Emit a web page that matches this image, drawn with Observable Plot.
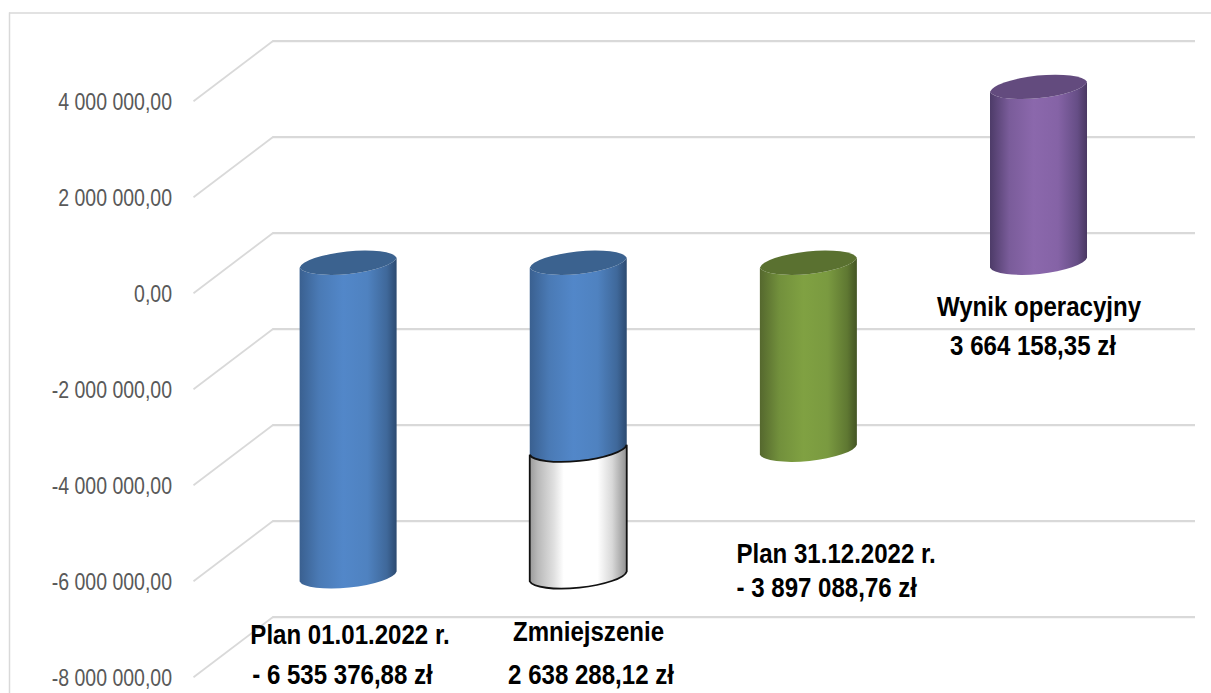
<!DOCTYPE html>
<html>
<head>
<meta charset="utf-8">
<script src="https://cdn.jsdelivr.net/npm/d3@7"></script>
<script src="https://cdn.jsdelivr.net/npm/@observablehq/plot@0.6"></script>
<style>
html,body{margin:0;padding:0;background:#fff;overflow:hidden}
svg{display:block}
</style>
</head>
<body>
<div id="chart"></div>
<script>
// ---- data ----
const yTicks = [4000000, 2000000, 0, -2000000, -4000000, -6000000, -8000000];
const yTickLabels = ["4 000 000,00","2 000 000,00","0,00","-2 000 000,00","-4 000 000,00","-6 000 000,00","-8 000 000,00"];
const columns = [0, 1, 1, 2, 3];
const seriesFrom = [0, 0, -3897088.76, 0, 0];
const seriesTo = [-6535376.88, -3897088.76, -6535376.88, -3897088.76, 3664158.35];
const seriesKind = ["blue", "blue", "white", "green", "purple"];
const labelLines = [
  "Plan 01.01.2022 r.", "- 6 535 376,88 zł",
  "Zmniejszenie", "2 638 288,12 zł",
  "Plan 31.12.2022 r.", "- 3 897 088,76 zł",
  "Wynik operacyjny", "3 664 158,35 zł"
];

// ---- scale set-up ----
const W = 1211, H = 693;
const xDomain = [-0.674, 3.68], xRange = [193, 1195];
const yDomain = [-8000000, 4000000], yRange = [676.7, 100.7];
const xAt = d3.scaleLinear().domain(xRange).range(xDomain);
const yAt = d3.scaleLinear().domain(yRange).range(yDomain);
const wallDepth = 1250000, midDepth = 625000;
const wallFront = xDomain[0], wallBack = -0.33, wallRight = xDomain[1];

// label placement: [px x, px y baseline, anchor]
const labelPlace = [
  [349.5, 643, "middle"], [342, 683, "middle"],
  [588, 640, "middle"], [590.5, 683, "middle"],
  [736, 562, "start"], [736, 596, "start"],
  [1038.5, 315, "middle"], [1032.5, 354, "middle"]
];
const labels = labelLines.map((text, i) => ({text, x: xAt(labelPlace[i][0]), y: yAt(labelPlace[i][1]), anchor: labelPlace[i][2]}));

const palettes = {
  blue:   {top:"#3b628f", stops:[[0,"#3a6090"],[0.2,"#4a7ab5"],[0.45,"#5287c9"],[0.7,"#4f82c0"],[0.9,"#3f689a"],[1,"#2c4a70"]]},
  white:  {top:"#fff", stops:[[0,"#9a9a9a"],[0.08,"#b8b8b8"],[0.25,"#e0e0e0"],[0.35,"#ffffff"],[0.7,"#ffffff"],[0.85,"#d8d8d8"],[1,"#909090"]]},
  green:  {top:"#5a7130", stops:[[0,"#55682e"],[0.2,"#72903c"],[0.45,"#80a142"],[0.7,"#7a9a40"],[0.9,"#5f7832"],[1,"#445524"]]},
  purple: {top:"#634b7e", stops:[[0,"#4d3b68"],[0.2,"#7a5c9a"],[0.45,"#8b68ac"],[0.7,"#8563a6"],[0.9,"#664e86"],[1,"#4a3862"]]}
};

const rows = columns.map((c, i) => ({c, from: seriesFrom[i], to: seriesTo[i], kind: seriesKind[i]}));
const halfCol = 48.5 / ((xRange[1]-xRange[0])/(xDomain[1]-xDomain[0]));

// cylinder renderer: draws each rect of the mark as a tilted cylinder from its scaled values
function cylinders(index, scales, values, dims, context) {
  const ns = "http://www.w3.org/2000/svg";
  const g = document.createElementNS(ns, "g");
  const defs = document.createElementNS(ns, "defs");
  g.appendChild(defs);
  const tilt = 5, rx = 49, ry = 12.5, rot = -5.9;
  Object.entries(palettes).forEach(([name, p]) => {
    const lg = document.createElementNS(ns, "linearGradient");
    lg.setAttribute("id", "cyl-" + name);
    p.stops.forEach(([o, c]) => {
      const s = document.createElementNS(ns, "stop");
      s.setAttribute("offset", o); s.setAttribute("stop-color", c);
      lg.appendChild(s);
    });
    defs.appendChild(lg);
  });
  const arc = (x, y, sweep) => `A${rx} ${ry} ${rot} 0 ${sweep} ${x} ${y}`;
  const add = (d, attrs) => {
    const el = document.createElementNS(ns, "path");
    el.setAttribute("d", d);
    for (const k in attrs) el.setAttribute(k, attrs[k]);
    g.appendChild(el);
  };
  for (const i of index) {
    const xL = values.x1[i], xR = values.x2[i];
    let yT = values.y1[i], yB = values.y2[i];
    if (yT > yB) [yT, yB] = [yB, yT];
    const row = rows[i], outlined = row.kind === "white";
    const body = `M${xL} ${yT+tilt}L${xL} ${yB+tilt}${arc(xR, yB-tilt, 0)}L${xR} ${yT-tilt}${arc(xL, yT+tilt, 1)}Z`;
    add(body, {fill: `url(#cyl-${row.kind})`, stroke: outlined ? "#111" : "none", "stroke-width": outlined ? 1.8 : 0});
    if (!outlined) {
      add(`M${xL} ${yT+tilt}${arc(xR, yT-tilt, 1)}${arc(xL, yT+tilt, 1)}Z`, {fill: palettes[row.kind].top});
    }
  }
  return g;
}

// horizontally condenses each text of a Plot.text mark, keeping its anchor in place
const condensed = sx => (index, scales, values, dims, context, next) => {
  const g = next(index, scales, values, dims, context);
  g.querySelectorAll("text").forEach(t => t.setAttribute("transform", `${t.getAttribute("transform") || ""} scale(${sx},1)`));
  return g;
};

const labelStyle = {x: "x", y: "y", text: "text", lineAnchor: "bottom", fontFamily: "'Liberation Sans',sans-serif", fontWeight: 700, fontSize: 27.5, fill: "#000", render: condensed(0.875)};

const chart = Plot.plot({
  width: W, height: H,
  margin: 0,
  style: {background: "#fff", overflow: "visible"},
  x: {domain: xDomain, range: xRange, axis: null},
  y: {domain: yDomain, range: yRange, axis: null},
  marks: [
    // chart-area border
    Plot.ruleX([xAt(9)], {y1: yAt(12.5), y2: yAt(693), stroke: "#d9d9d9", strokeWidth: 1.5}),
    Plot.ruleY([yAt(12.5)], {x1: xAt(9), x2: xAt(1211), stroke: "#d9d9d9", strokeWidth: 1.5}),
    // back wall gridlines and side-wall diagonals
    Plot.ruleY(yTicks, {y: d => d + wallDepth, x1: wallBack, x2: wallRight, stroke: "#d9d9d9", strokeWidth: 2.2}),
    Plot.link(yTicks, {x1: wallFront, x2: wallBack, y1: d => d, y2: d => d + wallDepth, stroke: "#d9d9d9", strokeWidth: 1.8}),
    // tick labels
    Plot.text(yTicks, {x: wallFront, y: d => d, text: (d, i) => yTickLabels[i], textAnchor: "end", dx: -21.5, dy: 1, fontFamily: "'Liberation Sans',sans-serif", fontSize: 23.5, fill: "#595959", render: condensed(0.83)}),
    // cylinders
    Plot.rect(rows, {
      x1: d => d.c - halfCol, x2: d => d.c + halfCol,
      y1: d => d.from + midDepth, y2: d => d.to + midDepth,
      render: cylinders
    }),
    // annotations
    Plot.text(labels.filter(d => d.anchor === "middle"), {...labelStyle, textAnchor: "middle"}),
    Plot.text(labels.filter(d => d.anchor === "start"), {...labelStyle, textAnchor: "start"})
  ]
});
document.getElementById("chart").appendChild(chart);
</script>
</body>
</html>
